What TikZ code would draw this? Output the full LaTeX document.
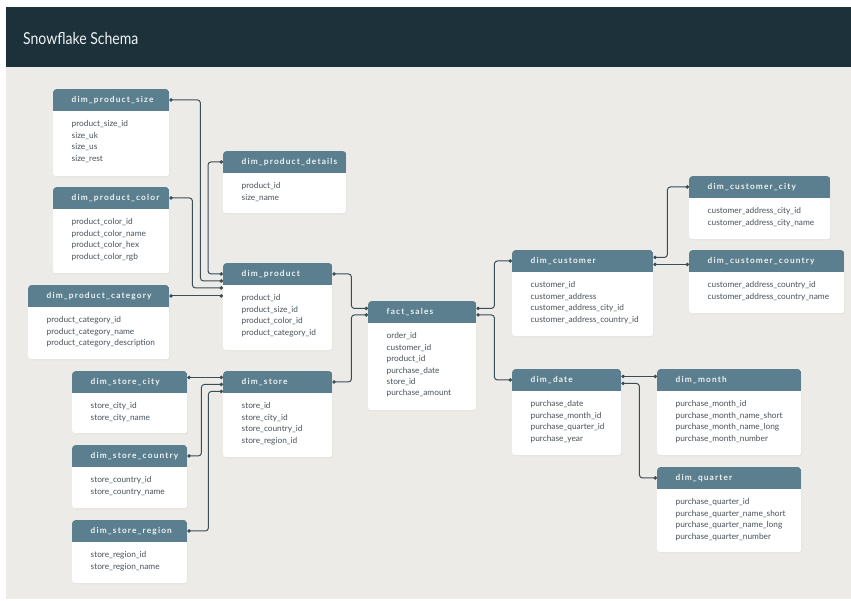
\documentclass[tikz,border=0pt]{standalone}
\usepackage{fontspec}
\setmainfont{Lato}
\newfontfamily\hdrfont[LetterSpace=14]{Lato}
\usepackage{tikz}
\usetikzlibrary{positioning, arrows.meta, shadows}

\definecolor{titlebar}{HTML}{1D313A}
\definecolor{canvas}{HTML}{ECEBE8}
\definecolor{hdrfill}{HTML}{5B7F8E}
\definecolor{hdrtext}{HTML}{EEF3F5}
\definecolor{rowtext}{HTML}{48535A}
\definecolor{linkcol}{HTML}{3A4E57}

\tikzset{
  card/.style={anchor=north west, fill=white, rounded corners=3pt, inner sep=0pt,
    drop shadow={opacity=0.07, shadow xshift=0.6pt, shadow yshift=-1.2pt},
    path picture={\fill[hdrfill, sharp corners] (path picture bounding box.north west)
      rectangle ([yshift=-21.5pt]path picture bounding box.north east);}},
  hdr/.style={anchor=north west, inner sep=0pt, minimum height=21.5pt,
    text height=6pt, text depth=1.5pt, text=hdrtext,
    font=\hdrfont\bfseries\fontsize{8.3}{10}\selectfont},
  rows/.style={anchor=north west, inner sep=0pt, align=left, text=rowtext,
    font=\fontsize{8.3}{11.4}\selectfont},
  link/.style={draw=linkcol, line width=1pt, rounded corners=3pt,
    {Circle[length=3.4pt]}-{Circle[length=3.4pt]}}
}

% name, x, y, width, height, title, rows
\newcommand\schemetable[7]{%
  \node[card, minimum width=#4, minimum height=#5] (#1box) at (#2,#3) {};
  \node[hdr] (#1) at (#1box.north west) {\hbox to #4pt{\hskip18.5pt #6\hfil}};
  \node[rows] (#1rows) at ([xshift=18.5pt,yshift=-31.5pt]#1box.north west) {#7};
}

\begin{document}
\begin{tikzpicture}[x=1pt, y=-1pt]
  \useasboundingbox (0,0) rectangle (851,601);
  \fill[white] (0,0) rectangle (851,601);
  \fill[canvas] (6,67) rectangle (851,599);
  \fill[titlebar] (6,7) rectangle (851,67);
  \node[anchor=west, inner sep=0pt, text=hdrtext, xscale=0.85, transform shape,
    font=\fontsize{16.5}{19}\selectfont] (title) at (23,38) {Snowflake Schema};

  % product side
  \schemetable{psize}{53}{89}{116}{87}{dim\_product\_size}{product\_size\_id\\size\_uk\\size\_us\\size\_rest}
  \schemetable{pcolor}{53}{187}{116}{86}{dim\_product\_color}{product\_color\_id\\product\_color\_name\\product\_color\_hex\\product\_color\_rgb}
  \schemetable{pdetails}{223}{151}{123}{62}{dim\_product\_details}{product\_id\\size\_name}
  \schemetable{product}{223}{263}{109}{87}{dim\_product}{product\_id\\product\_size\_id\\product\_color\_id\\product\_category\_id}
  \schemetable{pcategory}{28}{285}{141}{74}{dim\_product\_category}{product\_category\_id\\product\_category\_name\\product\_category\_description}

  % store side
  \schemetable{scity}{72}{371}{115}{62}{dim\_store\_city}{store\_city\_id\\store\_city\_name}
  \schemetable{store}{223}{371}{109}{86}{dim\_store}{store\_id\\store\_city\_id\\store\_country\_id\\store\_region\_id}
  \schemetable{scountry}{72}{445}{115}{63}{dim\_store\_country}{store\_country\_id\\store\_country\_name}
  \schemetable{sregion}{72}{520}{115}{63}{dim\_store\_region}{store\_region\_id\\store\_region\_name}

  % fact table
  \schemetable{fact}{368}{301}{108}{109}{fact\_sales}{order\_id\\customer\_id\\product\_id\\purchase\_date\\store\_id\\purchase\_amount}

  % customer side
  \schemetable{customer}{512}{250}{141}{86}{dim\_customer}{customer\_id\\customer\_address\\customer\_address\_city\_id\\customer\_address\_country\_id}
  \schemetable{ccity}{689}{176}{141}{63}{dim\_customer\_city}{customer\_address\_city\_id\\customer\_address\_city\_name}
  \schemetable{ccountry}{689}{250}{155}{63}{dim\_customer\_country}{customer\_address\_country\_id\\customer\_address\_country\_name}

  % date side
  \schemetable{date}{512}{369}{109}{86}{dim\_date}{purchase\_date\\purchase\_month\_id\\purchase\_quarter\_id\\purchase\_year}
  \schemetable{month}{657}{369}{144}{86}{dim\_month}{purchase\_month\_id\\purchase\_month\_name\_short\\purchase\_month\_name\_long\\purchase\_month\_number}
  \schemetable{quarter}{657}{467}{144}{85}{dim\_quarter}{purchase\_quarter\_id\\purchase\_quarter\_name\_short\\purchase\_quarter\_name\_long\\purchase\_quarter\_number}

  % links
  \draw[link] (pdetails.west) -- ++(-15,0) |- (product.west);
  \draw[link] (psize.east) -- ++(31,0) |- ([yshift=-7pt]product.west);
  \draw[link] (pcolor.east) -- ++(23,0) |- ([yshift=-14pt]product.west);
  \draw[link] (pcategory.east) -- ([yshift=-22pt]product.west);
  \draw[link] ([yshift=4.5pt]scity.east) -- ([yshift=4.5pt]store.west);
  \draw[link] (scountry.east) -- ++(14,0) |- ([yshift=-2.5pt]store.west);
  \draw[link] (sregion.east) -- ++(21,0) |- ([yshift=-9.5pt]store.west);
  \draw[link] (product.east) -- ++(19,0) |- ([yshift=3.5pt]fact.west);
  \draw[link] (store.east) -- ++(19,0) |- ([yshift=-3pt]fact.west);
  \draw[link] ([yshift=3.5pt]fact.east) -- ++(18,0) |- (customer.west);
  \draw[link] ([yshift=-3pt]fact.east) -- ++(18,0) |- (date.west);
  \draw[link] ([yshift=3.5pt]customer.east) -- ++(14,0) |- (ccity.west);
  \draw[link] ([yshift=-3.5pt]customer.east) -- ([yshift=-3.5pt]ccountry.west);
  \draw[link] ([yshift=3.5pt]date.east) -- ([yshift=3.5pt]month.west);
  \draw[link] ([yshift=-3.5pt]date.east) -- ++(18,0) |- (quarter.west);
\end{tikzpicture}
\end{document}
